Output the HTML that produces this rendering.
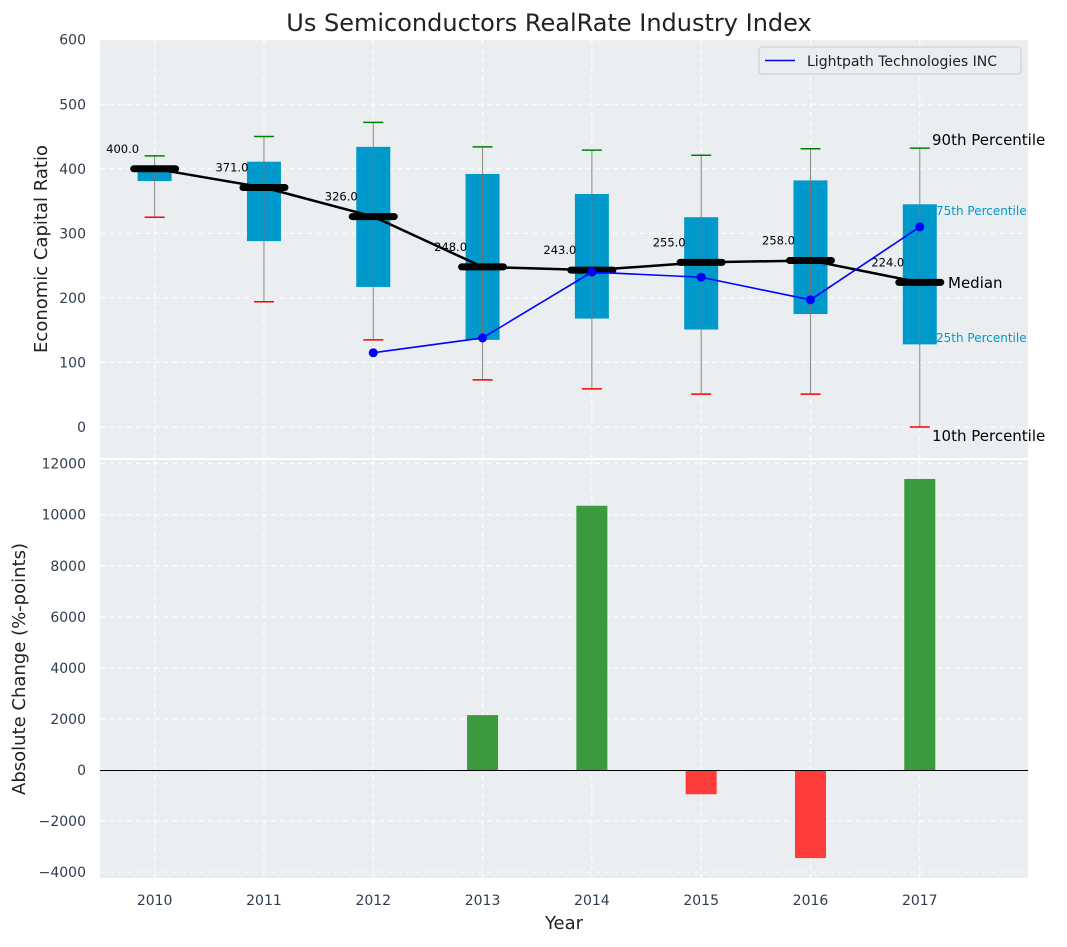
<!DOCTYPE html>
<html><head><meta charset="utf-8"><style>
body{margin:0;background:#fff;font-family:"Liberation Sans","DejaVu Sans",sans-serif}
svg text{font-family:"DejaVu Sans","Liberation Sans",sans-serif}
</style></head><body>
<svg id="c" width="1067" height="942" xmlns="http://www.w3.org/2000/svg"></svg>
<script>
const years=[2010,2011,2012,2013,2014,2015,2016,2017];
const p10=[325,194,135,73,59,51,51,0];
const p25=[381,288,217,135,168,151,175,128];
const med=[400,371,326,248,243,255,258,224];
const p75=[404,411,434,392,361,325,382,345];
const p90=[420,450,472,434,429,421,431,432];
const compYears=[2012,2013,2014,2015,2016,2017];
const compVals=[115,138,240,232,197,310];
const barYears=[2013,2014,2015,2016,2017];
const barVals=[2150,10350,-950,-3450,11400];
const topTicks=[0,100,200,300,400,500,600];
const botTicks=[-4000,-2000,0,2000,4000,6000,8000,10000,12000];

const NS="http://www.w3.org/2000/svg";
const svg=document.getElementById('c');
function el(t,a,parent){const e=document.createElementNS(NS,t);for(const k in a)e.setAttribute(k,a[k]);(parent||svg).appendChild(e);return e;}
const L=100,R=1028;
const X=y=>L+(y-2009.5)*(R-L)/(2017.99-2009.5);
const T0=40,T1=458,B0=460,B1=878;
const Yt=v=>427-v*0.6455;
const Yb=v=>770-v*0.02553;

let r=el('rect',{x:L,y:T0,width:R-L,height:T1-T0,fill:'#eaeef0'});

r=el('rect',{x:L,y:B0,width:R-L,height:B1-B0,fill:'#eaeef0'});


years.forEach(y=>{
 el('line',{x1:X(y),x2:X(y),y1:T0,y2:T1,stroke:'#fff','stroke-dasharray':'5,4','stroke-width':1});
 el('line',{x1:X(y),x2:X(y),y1:B0,y2:B1,stroke:'#fff','stroke-dasharray':'5,4','stroke-width':1});
 let t=el('text',{x:X(y),y:905,'font-size':14,fill:'#2e3e50','text-anchor':'middle'});t.textContent=y;
 
});
topTicks.forEach(v=>{
 el('line',{x1:L,x2:R,y1:Yt(v),y2:Yt(v),stroke:'#fff','stroke-dasharray':'5,4'});
 let t=el('text',{x:86,y:Yt(v)+5,'font-size':14,fill:'#2e3e50','text-anchor':'end'});t.textContent=v;
 
});
botTicks.forEach(v=>{
 el('line',{x1:L,x2:R,y1:Yb(v),y2:Yb(v),stroke:'#fff','stroke-dasharray':'5,4'});
 let t=el('text',{x:86,y:Yb(v)+5,'font-size':14,fill:'#2e3e50','text-anchor':'end'});t.textContent=(v<0?'\u2212'+(-v):v);
 
});

years.forEach((y,i)=>{
 const x=X(y);
 el('line',{x1:x,x2:x,y1:Yt(p90[i]),y2:Yt(p10[i]),stroke:'#888','stroke-width':1});
 let b=el('rect',{x:x-17,y:Yt(p75[i]),width:34,height:Yt(p25[i])-Yt(p75[i]),fill:'#0099cc'});
 
 el('line',{x1:x,x2:x,y1:Yt(p75[i]),y2:Yt(p25[i]),stroke:'#777','stroke-width':1});
 el('line',{x1:x-10,x2:x+10,y1:Yt(p90[i]),y2:Yt(p90[i]),stroke:'green','stroke-width':1.5});
 el('line',{x1:x-10,x2:x+10,y1:Yt(p10[i]),y2:Yt(p10[i]),stroke:'red','stroke-width':1.5});
});
el('polyline',{points:years.map((y,i)=>X(y)+','+Yt(med[i])).join(' '),fill:'none',stroke:'#000','stroke-width':2.5});
years.forEach((y,i)=>{
 let m=el('line',{x1:X(y)-21,x2:X(y)+21,y1:Yt(med[i]),y2:Yt(med[i]),stroke:'#000','stroke-width':7,'stroke-linecap':'round'});
 
 let t=el('text',{x:X(y)-32,y:Yt(med[i])-16,'font-size':11.5,fill:'#000','text-anchor':'middle'});t.textContent=med[i].toFixed(1);
 
});
let pl=el('polyline',{points:compYears.map((y,i)=>X(y)+','+Yt(compVals[i])).join(' '),fill:'none',stroke:'blue','stroke-width':1.6});

compYears.forEach((y,i)=>{let c=el('circle',{cx:X(y),cy:Yt(compVals[i]),r:4.5,fill:'blue'});
 });

const ann=[['90th Percentile',932,145,15,'#000'],['75th Percentile',936,215,12,'#0099cc'],['Median',948,288,15,'#000'],['25th Percentile',936,342,12,'#0099cc'],['10th Percentile',932,441,15,'#000']];
ann.forEach(a=>{let t=el('text',{x:a[1],y:a[2],'font-size':a[3],fill:a[4]});t.textContent=a[0];
 });

let lg=el('g',{});
el('rect',{x:759,y:47,width:262,height:27,rx:3,fill:'#eaeef0',stroke:'#ccc'},lg);
el('line',{x1:765,x2:795,y1:60.5,y2:60.5,stroke:'blue','stroke-width':1.6},lg);
let lt=el('text',{x:807,y:66,'font-size':14,fill:'#222'},lg);lt.textContent='Lightpath Technologies INC';

barYears.forEach((y,i)=>{const v=barVals[i];
 let b=el('rect',{x:X(y)-15.5,y:Math.min(Yb(v),Yb(0)),width:31,height:Math.abs(Yb(v)-Yb(0)),fill:v>=0?'#3a9a3d':'#ff3c3c'});
 });
let zl=el('line',{x1:L,x2:R,y1:Yb(0)+0.5,y2:Yb(0)+0.5,stroke:'#000','stroke-width':1});


let t=el('text',{x:549,y:31,'font-size':24,fill:'#222','text-anchor':'middle'});t.textContent='Us Semiconductors RealRate Industry Index';

t=el('text',{x:47,y:249,'font-size':18,fill:'#222','text-anchor':'middle',transform:'rotate(-90 47 249)'});t.textContent='Economic Capital Ratio';

t=el('text',{x:25,y:669,'font-size':18,fill:'#222','text-anchor':'middle',transform:'rotate(-90 25 669)'});t.textContent='Absolute Change (%-points)';

t=el('text',{x:564,y:929,'font-size':18,fill:'#222','text-anchor':'middle'});t.textContent='Year';

</script>
</body></html>
